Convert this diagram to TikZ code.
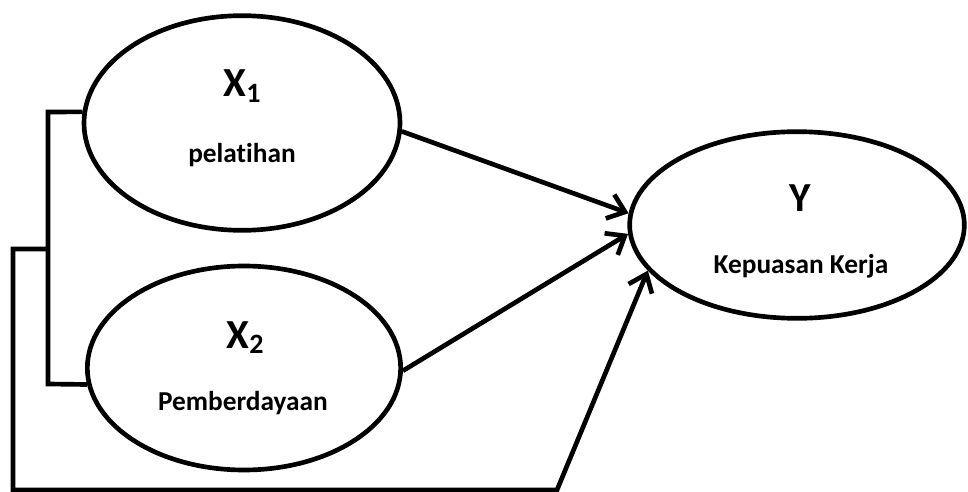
\documentclass[tikz,border=0pt]{standalone}
\usepackage{fontspec}
\setmainfont{Carlito}[Ligatures=NoCommon]
\usetikzlibrary{shapes.geometric,arrows.meta}
\tikzset{
  latent/.style={draw=black, line width=3.5pt, ellipse, inner sep=0pt},
  conn/.style={draw=black, line width=3.5pt, line join=miter},
  arr/.style={conn, -{Straight Barb[length=12pt,width=19pt,line width=3.5pt]}},
  big/.style={font=\bfseries\fontsize{31}{33}\selectfont, anchor=base, inner sep=0pt},
  small/.style={font=\bfseries\fontsize{20.5}{22}\selectfont, anchor=base, inner sep=0pt}
}
\newcommand{\sbs}[1]{\raisebox{-4pt}{\fontsize{21}{21}\selectfont #1}}
\begin{document}
\begin{tikzpicture}[x=0.75pt,y=-0.75pt]
\useasboundingbox (0,0) rectangle (968,492);
\node[latent, minimum width=237pt, minimum height=161pt] (x1) at (242,123) {};
\node[latent, minimum width=235pt, minimum height=153pt] (x2) at (244,368) {};
\node[latent, minimum width=251pt, minimum height=140pt] (y) at (797,225) {};
\node[big] (x1t) at (242,97) {X\sbs{1}};
\node[small] (x1l) at (242,162) {pelatihan};
\node[big] (x2t) at (245,348) {X\sbs{2}};
\node[small] (x2l) at (243,410) {Pemberdayaan};
\node[big] (yt) at (800,211) {Y};
\node[small] (yl) at (801,273) {Kepuasan Kerja};
\coordinate (bt) at (48,112);
\coordinate (bb) at (48,384);
\coordinate (j) at (48,249);
\coordinate (c1) at (13,249);
\coordinate (c2) at (13,490);
\coordinate (c3) at (557,490);
\draw[conn] (x1.176) -- (bt) -- (bb) -- (x2.-174);
\draw[arr] (j) -- (c1) -- (c2) -- (c3) -- (y.-163);
\draw[arr] (x1.-3) -- (y.176);
\draw[arr] (x2.-1) -- (y.-177);
\end{tikzpicture}
\end{document}
